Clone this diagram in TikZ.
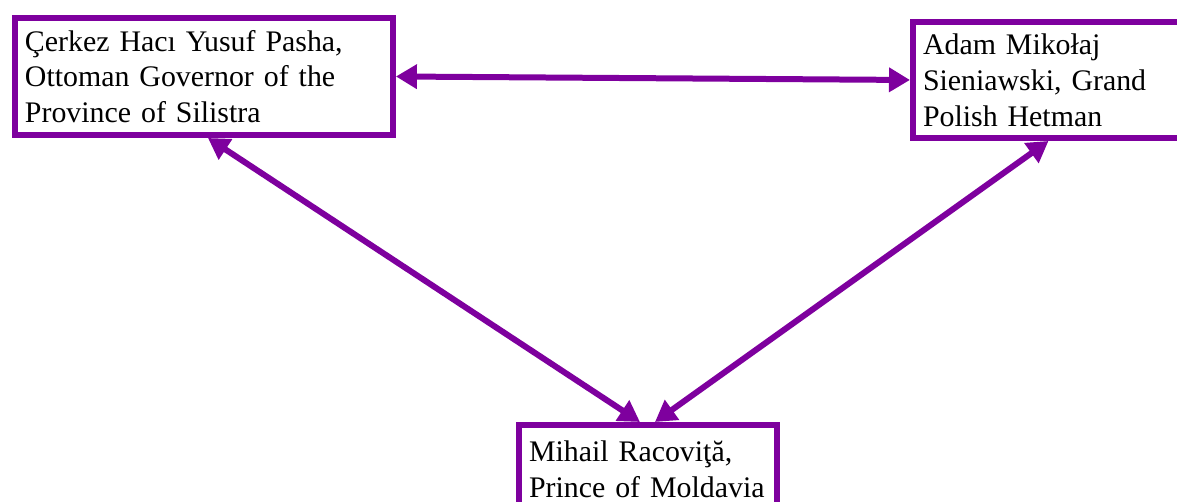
\documentclass[tikz,border=0pt]{standalone}
\usepackage{fontspec}
\setmainfont{Liberation Serif}
\usetikzlibrary{arrows.meta}
\definecolor{royalpurple}{RGB}{126,0,158}

\begin{document}
\begin{tikzpicture}[x=0.02cm,y=-0.02cm,
	person/.style={draw=royalpurple, line width=0.12cm, rectangle, anchor=north west, align=left, inner xsep=0.2cm, font=\fontsize{17}{20.4}\selectfont},
	link/.style={royalpurple, line width=0.12cm, {Triangle[length=0.42cm,width=0.47cm]}-{Triangle[length=0.42cm,width=0.47cm]}}]

	\useasboundingbox (0,0) rectangle (1177,502);

	\node[person, minimum width=7.56cm, minimum height=2.34cm, text width=7.16cm] (yusuf) at (12,15) {Çerkez Hacı Yusuf Pasha,\\ Ottoman Governor of the\\ Province of Silistra};
	\node[person, minimum width=5.6cm, minimum height=2.32cm, text width=5.2cm] (adam) at (910,19) {Adam Mikołaj\\ Sieniawski, Grand\\ Polish Hetman};
	\node[person, minimum width=5.16cm, minimum height=1.78cm, text width=4.76cm] (mihail) at (516,422) {Mihail Racoviţă,\\ Prince of Moldavia};

	\draw[link] (yusuf.east) -- (adam.west);
	\draw[link] ([xshift=0.08cm]yusuf.south) -- ([xshift=-0.16cm]mihail.north);
	\draw[link] ([xshift=-0.09cm]adam.south) -- ([xshift=0.14cm]mihail.north);

\end{tikzpicture}
\end{document}
